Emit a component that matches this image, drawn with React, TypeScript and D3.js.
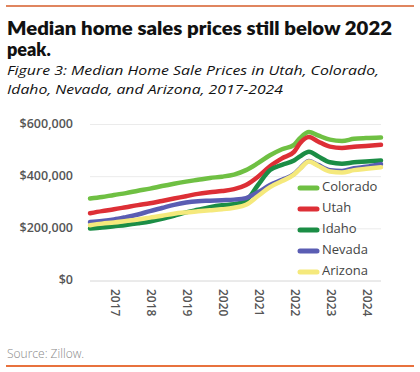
import React from "react";
import * as d3 from "d3";

// months sampled off the chart (every ~4 months)
const months = [
  "2016-05", "2016-09", "2017-01", "2017-05", "2017-09", "2018-01", "2018-05",
  "2018-09", "2019-01", "2019-05", "2019-09", "2020-01", "2020-05", "2020-09",
  "2021-01", "2021-05", "2021-09", "2022-01", "2022-03", "2022-06", "2022-09",
  "2023-01", "2023-05", "2023-09", "2024-01", "2024-06",
];

// median sale price, thousands of dollars
const colorado = [316, 322, 330, 337, 346, 354, 364, 373, 381, 388, 395, 400, 408, 425, 452, 482, 505, 522, 548, 571, 558, 542, 537, 545, 548, 550];
const utah = [260, 268, 275, 283, 291, 298, 307, 316, 325, 334, 340, 345, 352, 368, 400, 440, 470, 495, 528, 552, 535, 515, 510, 515, 518, 522];
const idaho = [201, 205, 210, 215, 221, 228, 238, 250, 263, 273, 283, 290, 294, 308, 368, 425, 445, 462, 478, 496, 478, 455, 450, 455, 458, 462];
const nevada = [226, 230, 236, 245, 255, 268, 280, 292, 301, 306, 308, 310, 312, 318, 340, 368, 388, 410, 432, 460, 445, 425, 422, 432, 438, 448];
const arizona = [214, 220, 224, 230, 236, 243, 250, 258, 263, 267, 271, 275, 281, 292, 326, 360, 383, 408, 430, 458, 442, 420, 416, 425, 430, 436];

const yTicks = [0, 200000, 400000, 600000];
const years = [2017, 2018, 2019, 2020, 2021, 2022, 2023, 2024];

const series = [
  { name: "Colorado", values: colorado, color: "#6fc043" },
  { name: "Utah", values: utah, color: "#dd2f36" },
  { name: "Idaho", values: idaho, color: "#1b8d45" },
  { name: "Nevada", values: nevada, color: "#5a5db3" },
  { name: "Arizona", values: arizona, color: "#f5e97c" },
];

const toYear = (m: string) => {
  const [y, mo] = m.split("-").map(Number);
  return y + (mo - 1) / 12;
};

const FONT = "'Open Sans', Lato, sans-serif";

export default function App() {
  const width = 420;
  const height = 372;
  const t = months.map(toYear);

  const x = d3.scaleLinear().domain([t[0], t[t.length - 1]]).range([90, 381]);
  const y = d3.scaleLinear().domain([0, 600000]).range([281, 124.5]);

  const line = d3
    .line<number>()
    .x((d, i) => x(t[i]))
    .y((d) => y(d * 1000))
    .curve(d3.curveMonotoneX);

  const fmt = (v: number) => "$" + d3.format(",")(v);

  return (
    <svg
      width={width}
      height={height}
      style={{ position: "absolute", left: 0, top: 0, background: "#fff" }}
      fontFamily={FONT}
    >
      <line x1={6} x2={414} y1={6} y2={6} stroke="#e0855f" strokeWidth={2} />

      {/* title: Lato keeps the line boxes from colliding */}
      <text x={7} y={35} fontFamily="Lato, sans-serif" fontSize={18} fontWeight={800} fill="#111" textLength={385} lengthAdjust="spacingAndGlyphs">
        Median home sales prices still below 2022
      </text>
      <text x={7} y={56} fontFamily="Lato, sans-serif" fontSize={18} fontWeight={800} fill="#111">
        peak.
      </text>
      <text x={7} y={75} fontSize={13.5} fontStyle="italic" fill="#111" textLength={372} lengthAdjust="spacingAndGlyphs">
        Figure 3: Median Home Sale Prices in Utah, Colorado,
      </text>
      <text x={7} y={94} fontSize={13.5} fontStyle="italic" fill="#111" textLength={276} lengthAdjust="spacingAndGlyphs">
        Idaho, Nevada, and Arizona, 2017-2024
      </text>

      {/* grid + y labels */}
      {yTicks.map((v) => (
        <g key={v}>
          <line
            x1={90}
            x2={381}
            y1={y(v)}
            y2={y(v)}
            stroke={v === 0 ? "#d6d6d6" : "#ebebeb"}
            strokeWidth={1}
          />
          <text
            x={73}
            y={y(v)}
            textAnchor="end"
            dominantBaseline="middle"
            fontSize={12.5}
            fill="#555"
            fontWeight={600}
          >
            {fmt(v)}
          </text>
        </g>
      ))}

      {/* x labels, rotated */}
      {years.map((yr) => (
        <text
          key={yr}
          transform={`translate(${x(yr)},289) rotate(90)`}
          dominantBaseline="middle"
          fontSize={12}
          fill="#555"
          fontWeight={600}
        >
          {yr}
        </text>
      ))}

      {/* lines */}
      {series.map((s) => (
        <path
          key={s.name}
          d={line(s.values) || ""}
          fill="none"
          stroke={s.color}
          strokeWidth={4.5}
          strokeLinejoin="round"
          strokeLinecap="round"
        />
      ))}

      {/* legend */}
      {series.map((s, i) => (
        <g key={s.name} transform={`translate(299,${188 + i * 21})`}>
          <line x1={1} x2={18} y1={0} y2={0} stroke={s.color} strokeWidth={5} strokeLinecap="round" />
          <text x={23} y={0} dominantBaseline="middle" fontSize={13} fill="#444" fontWeight={500}>
            {s.name}
          </text>
        </g>
      ))}

      <text x={7} y={358} fontSize={12} fill="#888" fontWeight={300}>
        Source: Zillow.
      </text>
      <line x1={6} x2={414} y1={366} y2={366} stroke="#e8723e" strokeWidth={2} />
    </svg>
  );
}
